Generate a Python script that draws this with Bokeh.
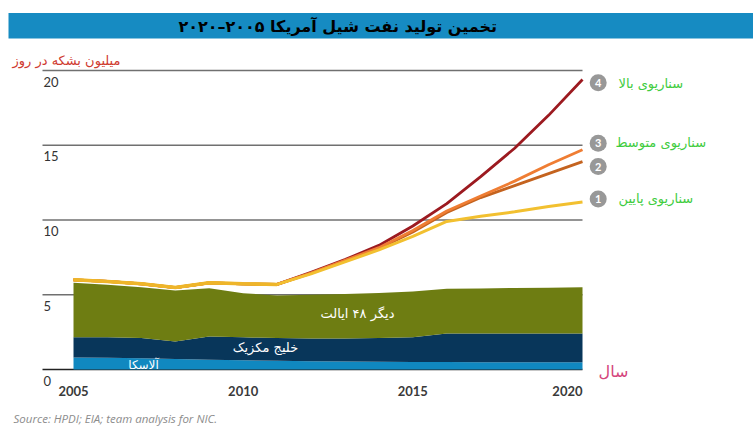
from bokeh.plotting import figure
from bokeh.models import ColumnDataSource, Range1d
from bokeh.core.properties import value
from bokeh.embed import file_html
from bokeh.resources import INLINE

# ---------------- data ----------------
years = [2005, 2006, 2007, 2008, 2009, 2010, 2011, 2012, 2013, 2014, 2015, 2016, 2017, 2018, 2019, 2020]
alaska = [0.80, 0.78, 0.75, 0.70, 0.66, 0.62, 0.58, 0.55, 0.53, 0.52, 0.51, 0.50, 0.49, 0.49, 0.48, 0.48]
gulf = [1.35, 1.37, 1.35, 1.17, 1.54, 1.53, 1.52, 1.52, 1.54, 1.58, 1.64, 1.90, 1.91, 1.91, 1.92, 1.92]
other48 = [3.65, 3.52, 3.40, 3.41, 3.24, 2.95, 2.85, 2.93, 2.98, 3.02, 3.07, 3.00, 3.02, 3.05, 3.07, 3.10]

hist_years = [2005, 2006, 2007, 2008, 2009, 2010, 2011]
hist_total = [6.00, 5.89, 5.73, 5.48, 5.80, 5.73, 5.69]

scen_years = [2011, 2012, 2013, 2014, 2015, 2016, 2017, 2018, 2019, 2020]
scen_low = [5.69, 6.40, 7.20, 8.00, 8.90, 9.90, 10.25, 10.55, 10.90, 11.20]      # 1
scen_mid2 = [5.69, 6.45, 7.25, 8.10, 9.20, 10.50, 11.50, 12.30, 13.10, 13.90]    # 2
scen_mid3 = [5.69, 6.45, 7.30, 8.15, 9.30, 10.60, 11.60, 12.60, 13.70, 14.70]    # 3
scen_high = [5.69, 6.50, 7.35, 8.30, 9.60, 11.10, 12.90, 14.80, 17.00, 19.40]    # 4

y_ticks = [0, 5, 10, 15, 20]
x_ticks = [2005, 2010, 2015, 2020]

title = "تخمین تولید نفت شیل آمریکا  ۲۰۰۵–۲۰۲۰"
y_label = "میلیون بشکه در روز"
x_label = "سال"
source_text = "Source: HPDI; EIA; team analysis for NIC."
layer_names = ["آلاسکا", "خلیج مکزیک", "دیگر ۴۸ ایالت"]
scenario_numbers = ["4", "3", "2", "1"]
scenario_names = ["سناریوی بالا", "سناریوی متوسط", "سناریوی پایین"]

# ---------------- layout helpers (page px -> data) ----------------
W, H = 753, 428
OFF = 0                       # canvas origin on the page
X0_PX, X1_PX = 73, 582        # page px of 2005 and 2020
Y0_PX, Y20_PX = 369, 70       # page px of 0 and 20
ppx = (X1_PX - X0_PX) / 15.0
ppy = (Y0_PX - Y20_PX) / 20.0


def X(px):
    return 2005 + (px - X0_PX) / ppx


def Y(py):
    return (Y0_PX - py) / ppy


x_range = Range1d(X(OFF), X(OFF + W))
y_range = Range1d(Y(OFF + H), Y(OFF))

p = figure(width=W, height=H, x_range=x_range, y_range=y_range,
           x_axis_location=None, y_axis_location=None,
           toolbar_location=None, output_backend="svg",
           min_border=0, min_border_left=0, min_border_right=0,
           min_border_top=0, min_border_bottom=0)
p.outline_line_color = None
p.background_fill_color = "white"
p.border_fill_color = "white"
p.xgrid.visible = False
p.ygrid.visible = False

PERSIAN = value("DejaVu Sans")
NUMF = value("Lato")

# title bar
p.quad(left=X(8), right=X(OFF + W), bottom=Y(38), top=Y(12.5),
       fill_color="#168bc2", line_color=None)
p.text(x=[X(340)], y=[Y(25.5)], text=[title], text_font=PERSIAN,
       text_font_size="16px", text_font_style="bold", text_color="#000000",
       text_align="center", text_baseline="middle")

# y label
p.text(x=[X(120)], y=[Y(60)], text=[y_label], text_font=PERSIAN,
       text_font_size="13px", text_color="#cf3a30",
       text_align="right", text_baseline="middle")

# gridlines
grid_src = ColumnDataSource(dict(y=[t for t in y_ticks if t > 0]))
p.segment(x0=X(42), x1=years[-1], y0="y", y1="y", source=grid_src,
          line_color="#707070", line_width=1.3)
p.segment(x0=[X(42)], x1=[years[-1]], y0=[y_ticks[0]], y1=[y_ticks[0]],
          line_color="#222222", line_width=1.5)

# y tick labels (below gridlines)
p.text(x=[X(43)] * len(y_ticks), y=[t - 6 / ppy for t in y_ticks],
       text=[str(t) for t in y_ticks], text_font=NUMF, text_font_size="13px",
       text_color="#333333", text_align="left", text_baseline="top")

# x tick labels
xt_align = ["right" if t == x_ticks[-1] else "center" for t in x_ticks]
p.text(x=x_ticks, y=[Y(390)] * len(x_ticks), text=[str(t) for t in x_ticks],
       text_font=NUMF, text_font_size="13px", text_font_style="bold",
       text_color="#3a3a3a", text_align=xt_align, text_baseline="middle")

# stacked areas
src = ColumnDataSource(dict(year=years, alaska=alaska, gulf=gulf, other48=other48))
p.varea_stack(stackers=["alaska", "gulf", "other48"], x="year",
              color=["#1088c0", "#08365a", "#6e7d12"], source=src)

# area labels
p.text(x=[X(143), X(265), X(357)], y=[Y(364), Y(347), Y(313)], text=layer_names,
       text_font=PERSIAN, text_font_size=["12px", "13px", "13px"], text_color="white",
       text_align="center", text_baseline="middle")

# scenario lines
p.line(hist_years[:-1] + scen_years, hist_total[:-1] + scen_high,
       line_color="#9c1a20", line_width=2.8)
p.line(hist_years[:-1] + scen_years, hist_total[:-1] + scen_mid2,
       line_color="#c4631f", line_width=2.8)
p.line(hist_years[:-1] + scen_years, hist_total[:-1] + scen_mid3,
       line_color="#ef7d33", line_width=2.8)
p.line(hist_years[:-1] + scen_years, hist_total[:-1] + scen_low,
       line_color="#f2c030", line_width=3.0)
p.line(hist_years, hist_total, line_color="#eeb52a", line_width=3.5)

# scenario markers
badge_y = [Y(82.3), Y(142.7), Y(166), Y(198.5)]
p.scatter(x=[X(597.7)] * 4, y=badge_y, size=17, color="#989898", line_color=None)
p.text(x=[X(597.7)] * 4, y=badge_y, text=scenario_numbers, text_font=NUMF,
       text_font_size="11px", text_font_style="bold", text_color="white",
       text_align="center", text_baseline="middle")
p.text(x=[X(618), X(615), X(618)], y=[Y(83), Y(142), Y(198)], text=scenario_names,
       text_font=PERSIAN, text_font_size="13px", text_color="#40cc40",
       text_align="left", text_baseline="middle")

# x label
p.text(x=[X(598)], y=[Y(371)], text=[x_label], text_font=PERSIAN,
       text_font_size="16px", text_color="#d4457c",
       text_align="left", text_baseline="middle")

# source
p.text(x=[X(13)], y=[Y(418)], text=[source_text], text_font=value("Open Sans"),
       text_font_size="11.5px", text_font_style="italic", text_color="#8c8c8c",
       text_align="left", text_baseline="middle")

open("out.html", "w").write(file_html(p, INLINE))
